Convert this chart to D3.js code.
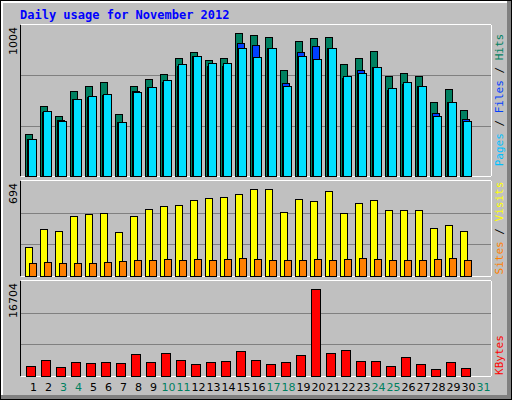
<!DOCTYPE html>
<html>
<head>
<meta charset="UTF-8" />
<script src="https://d3js.org/d3.v7.min.js"></script>
<style>body{margin:0;background:#fff}</style>
</head>
<body>
<svg width="512" height="400"></svg>
<script>
const days = d3.range(1, 32);
const weekend = [3, 4, 10, 11, 17, 18, 24, 25, 31];
const hits = [294,492,423,594,628,656,437,628,683,717,826,867,813,826,1004,990,977,744,949,970,977,785,826,874,703,724,703,519,608,464,0];
const files = [259,451,396,540,553,567,376,594,621,656,772,840,772,772,936,922,895,649,867,915,901,690,744,765,601,642,628,444,519,403,0];
const pages = [259,458,389,540,560,574,382,587,621,676,785,840,792,792,901,833,895,628,840,819,895,703,724,765,615,656,628,423,519,389,0];
const visits = [234,377,362,475,490,498,347,475,536,558,566,604,619,626,649,694,694,513,611,596,679,505,581,604,528,528,528,385,407,362,0];
const sites = [106,113,106,106,106,113,121,128,128,136,128,136,128,136,143,136,128,128,128,136,128,136,143,136,128,128,128,136,143,128,0];
const kbytes = [2000,3090,1630,2720,2540,2720,2540,4170,2720,4360,3090,2360,2720,2900,4720,3090,2360,2720,3990,16704,4360,4900,2900,2900,2000,3630,2360,1270,2720,1450,0];

const svg = d3.select("svg");
const mono = "DejaVu Sans Mono";

// frame with 3d edge
svg.append("rect").attr("x", 0).attr("y", 0).attr("width", 512).attr("height", 400).attr("fill", "#000");
svg.append("rect").attr("x", 1).attr("y", 1).attr("width", 510).attr("height", 398).attr("fill", "#808080");
svg.append("rect").attr("x", 1).attr("y", 1).attr("width", 506).attr("height", 394).attr("fill", "#fff");
svg.append("rect").attr("x", 3).attr("y", 3).attr("width", 504).attr("height", 392).attr("fill", "#c0c0c0");

svg.append("text").attr("x", 20).attr("y", 19).attr("font-family", mono).attr("font-weight", "bold")
  .attr("font-size", 12).attr("fill", "#0000ff").text("Daily usage for November 2012");

const x = d3.scaleBand().domain(days).range([21, 486]);
const L = 21, R = 491;

function panel(top, bottom, max, label) {
  svg.append("rect").attr("x", L).attr("y", top).attr("width", R - L).attr("height", bottom - top).attr("fill", "#c0c0c0");
  const y = d3.scaleLinear().domain([0, max]).range([bottom, top + 4]);
  const h = bottom - top;
  [1 / 3, 2 / 3].forEach(f => svg.append("line").attr("x1", L).attr("x2", R)
    .attr("y1", Math.round(bottom - h * f) + 0.5).attr("y2", Math.round(bottom - h * f) + 0.5).attr("stroke", "#808080"));
  svg.append("line").attr("x1", L - 0.5).attr("x2", L - 0.5).attr("y1", top).attr("y2", bottom).attr("stroke", "#000");
  svg.append("line").attr("x1", L).attr("x2", R).attr("y1", top - 0.5).attr("y2", top - 0.5).attr("stroke", "#fff");
  svg.append("line").attr("x1", R + 0.5).attr("x2", R + 0.5).attr("y1", top).attr("y2", bottom).attr("stroke", "#fff");
  svg.append("line").attr("x1", L).attr("x2", R).attr("y1", bottom + 0.5).attr("y2", bottom + 0.5).attr("stroke", "#fff");
  svg.append("text").attr("transform", `translate(17,${top + 2}) rotate(-90)`).attr("text-anchor", "end")
    .attr("font-family", "DejaVu Sans").attr("font-size", 11).attr("fill", "#000").text(label);
  return y;
}

function bars(data, y, dx, w, color, bottom) {
  svg.append("g").selectAll("rect").data(data.slice(0, 30)).join("rect")
    .attr("x", (d, i) => x(days[i]) + dx + 0.5).attr("y", d => Math.round(y(d)) + 0.5)
    .attr("width", w).attr("height", d => bottom - Math.round(y(d)))
    .attr("fill", color).attr("stroke", "#000");
}

function sideLabel(parts, yCenter) {
  const t = svg.append("text").attr("transform", `translate(503,${yCenter}) rotate(-90)`)
    .attr("text-anchor", "middle").attr("font-family", mono).attr("font-size", 11);
  parts.forEach(([s, c]) => t.append("tspan").attr("fill", c).text(s));
}

const y1 = panel(25, 176, 1004 * 151 / 147, "1004");
bars(hits, y1, 4, 7, "#008060", 176);
bars(files, y1, 6, 7, "#0040ff", 176);
bars(pages, y1, 7, 8, "#00e0ff", 176);
sideLabel([["Pages", "#00c0ff"], [" / ", "#000"], ["Files", "#0040ff"], [" / ", "#000"], ["Hits", "#008060"]], 100);

const y2 = panel(181, 276, 694 * 95 / 91, "694");
bars(visits, y2, 4, 7, "#ffff00", 276);
bars(sites, y2, 8, 7, "#ff8000", 276);
sideLabel([["Sites", "#ff8000"], [" / ", "#000"], ["Visits", "#ffff00"]], 228);

const y3 = panel(281, 376, 16704 * 95 / 91, "16704");
bars(kbytes, y3, 5, 9, "#ff0000", 376);
sideLabel([["KBytes", "#ff0000"]], 355);

svg.append("g").selectAll("text").data(days).join("text")
  .attr("x", d => x(d) + x.bandwidth() / 2 + 5).attr("y", 391).attr("text-anchor", "middle")
  .attr("font-family", "DejaVu Sans").attr("font-size", 11)
  .attr("fill", d => weekend.includes(d) ? "#008060" : "#000").text(d => d);
</script>
</body>
</html>
